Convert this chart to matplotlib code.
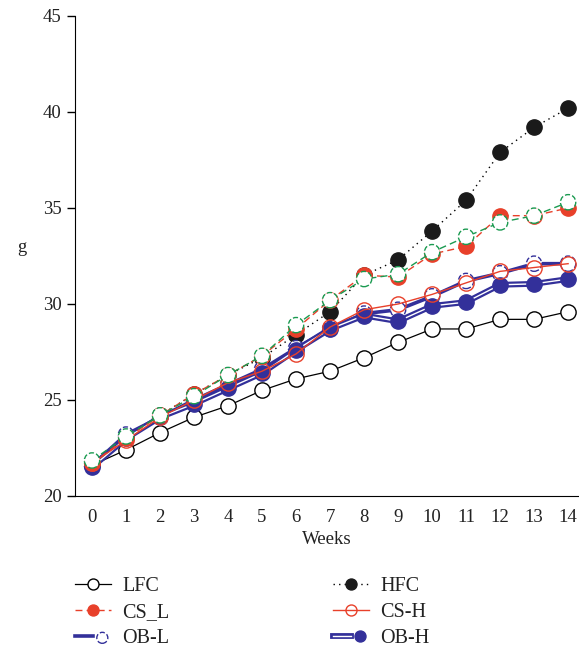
import matplotlib
matplotlib.use("Agg")
import matplotlib.pyplot as plt
import matplotlib.patheffects as pe
from matplotlib.legend_handler import HandlerTuple

weeks = list(range(15))
LFC  = [21.6, 22.4, 23.3, 24.1, 24.7, 25.5, 26.1, 26.5, 27.2, 28.0, 28.7, 28.7, 29.2, 29.2, 29.6]
HFC  = [21.7, 23.1, 24.2, 25.3, 26.3, 27.2, 28.4, 29.6, 31.5, 32.3, 33.8, 35.4, 37.9, 39.2, 40.2]
CS_L = [21.7, 23.0, 24.2, 25.3, 26.3, 27.3, 28.7, 30.2, 31.5, 31.4, 32.6, 33.0, 34.6, 34.6, 35.0]
CS_H = [21.7, 22.9, 24.1, 25.0, 25.9, 26.5, 27.4, 28.8, 29.7, 30.0, 30.5, 31.1, 31.7, 31.9, 32.1]
OB_L = [21.6, 23.2, 24.1, 25.0, 25.8, 26.6, 27.7, 28.7, 29.5, 29.7, 30.4, 31.2, 31.6, 32.1, 32.1]
OB_H = [21.5, 23.0, 24.1, 24.8, 25.6, 26.4, 27.6, 28.7, 29.4, 29.1, 29.9, 30.1, 31.0, 31.05, 31.3]
GRN  = [21.85, 23.1, 24.2, 25.2, 26.3, 27.3, 28.9, 30.2, 31.3, 31.55, 32.7, 33.5, 34.25, 34.6, 35.3]
leg_labels = ["LFC", "CS_L", "OB-L", "HFC", "CS-H", "OB-H"]
yticks = [20, 25, 30, 35, 40, 45]

RED = "#e8402a"
BLUE = "#33309a"
GREEN = "#1a9a50"
TXT = "#222222"

plt.rcParams['font.family'] = ['Liberation Serif', 'DejaVu Serif']

fig = plt.figure(figsize=(5.79, 6.5), dpi=100)
ax = fig.add_axes([75/579, 1-496/650, 1-75/579, (496-16)/650])

ms = 11
s = ms**2

hLFC, = ax.plot(weeks, LFC, color="black", lw=0.9, marker="o", ms=ms, mfc="white", mec="black", mew=1.0, zorder=2, clip_on=False)
hHFC, = ax.plot(weeks, HFC, color="black", lw=1.0, ls=(0, (1, 3)), marker="o", ms=ms, mfc="#1a1a1a", mec="#1a1a1a", zorder=3, clip_on=False)
hOBL_line, = ax.plot(weeks, OB_L, color=BLUE, lw=2.6, zorder=4, clip_on=False)
hOBL_mk = ax.scatter(weeks, OB_L, s=s, facecolors="white", edgecolors=BLUE, linewidths=1.0, linestyles="--", zorder=4.1, clip_on=False)
hOBH_line, = ax.plot(weeks, OB_H, color="white", lw=1.0, zorder=5, clip_on=False,
                     path_effects=[pe.Stroke(linewidth=4.2, foreground=BLUE), pe.Normal()])
hOBH_mk, = ax.plot(weeks, OB_H, ls="none", marker="o", ms=ms, mfc=BLUE, mec=BLUE, zorder=5.1, clip_on=False)
hCSH, = ax.plot(weeks, CS_H, color=RED, lw=1.0, marker="o", ms=ms, mfc="none", mec=RED, mew=1.0, zorder=6, clip_on=False)
hCSL, = ax.plot(weeks, CS_L, color=RED, lw=1.0, ls=(0, (5, 3)), marker="o", ms=ms, mfc=RED, mec=RED, zorder=7, clip_on=False)
ax.plot(weeks, GRN, color=GREEN, lw=1.0, ls=(0, (5, 3)), zorder=8, clip_on=False)
ax.scatter(weeks, GRN, s=s, facecolors="white", edgecolors=GREEN, linewidths=1.0, linestyles="--", zorder=8.1, clip_on=False)

ax.set_xlim(-0.5, 14.32)
ax.set_ylim(20, 45)
ax.set_xticks(weeks)
ax.set_yticks(yticks)
ax.spines["top"].set_visible(False)
ax.spines["right"].set_visible(False)
ax.tick_params(axis="y", direction="out", length=6, width=1, labelsize=13.5, labelcolor=TXT)
ax.tick_params(axis="x", length=0, pad=9, labelsize=13.5, labelcolor=TXT)
ax.set_xlabel("Weeks", fontsize=13.5, color=TXT, labelpad=4)
ax.set_ylabel("g", fontsize=13.5, rotation=0, color=TXT)
ax.yaxis.set_label_coords(-0.105, 0.5)

handles = [hLFC, hCSL, (hOBL_line, hOBL_mk), hHFC, hCSH, (hOBH_line, hOBH_mk)]
fig.legend(handles, leg_labels, ncol=2, loc="upper left", bbox_to_anchor=(57/579, 1-559/650),
           frameon=False, fontsize=14.5, handlelength=1.8, handletextpad=0.55, columnspacing=8.1,
           labelspacing=0.34, markerscale=0.72, labelcolor=TXT,
           numpoints=1, scatterpoints=1, handler_map={tuple: HandlerTuple(ndivide=None, pad=0)})

fig.savefig("out.png", dpi=100)
